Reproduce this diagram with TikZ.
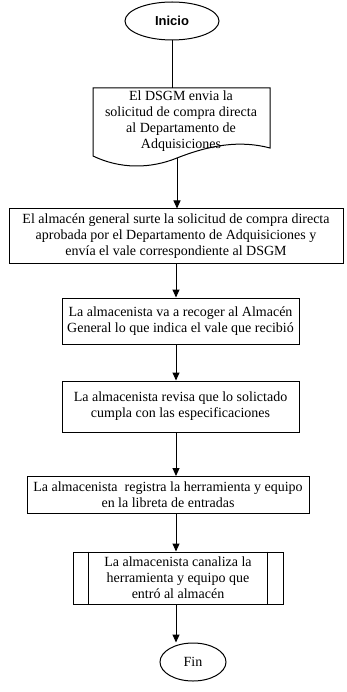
\documentclass[tikz,border=0pt]{standalone}
\usepackage{fontspec}
\setmainfont{Liberation Serif}
\newfontfamily\headfont{Liberation Sans}
\usetikzlibrary{shapes.geometric,arrows.meta}
\begin{document}
\begin{tikzpicture}[x=1pt,y=-1pt,
  txt/.style={align=center, font=\fontsize{14}{15.8}\selectfont, inner sep=0pt},
  box/.style={txt, draw, line width=1pt},
  term/.style={ellipse, draw, line width=1pt, inner sep=0pt},
  arr/.style={-{Triangle[length=8pt,width=7pt]}, line width=1pt},
  con/.style={line width=1pt}]
\useasboundingbox (0,0) rectangle (347,692);
\coordinate (cx) at (176,0);
% start
\node[term, minimum width=94pt, minimum height=38pt, font=\headfont\bfseries\fontsize{13}{15}\selectfont] (st) at (172,21) {Inicio};
% document shape
\coordinate (b1top) at (172,88);
\coordinate (b1bot) at (177,158);
\node[txt] (b1) at (181,121) {El DSGM envia la\\solicitud de compra directa\\al Departamento de\\Adquisiciones};
\draw[line width=1pt] (93,88) -- (270,88) -- (270,148)
  .. controls (240,140) and (210,145) .. (b1bot)
  .. controls (150,169) and (120,169) .. (93,156) -- cycle;
% boxes
\node[box, minimum width=334pt, minimum height=54pt] (b2) at (176,236) {El almacén general surte la solicitud de compra directa\\aprobada por el Departamento de Adquisiciones y\\envía el vale correspondiente al DSGM};
\node[box, minimum width=237pt, minimum height=46pt] (b3) at (180.5,321) {La almacenista va a recoger al Almacén\\General lo que indica el vale que recibió};
\node[box, minimum width=237pt, minimum height=51pt] (b4) at (180.5,406.5) {La almacenista revisa que lo solictado\\cumpla con las especificaciones};
\node[box, minimum width=282pt, minimum height=37pt] (b5) at (168,495) {La almacenista\ \ registra la herramienta y equipo\\en la libreta de entradas};
\node[box, minimum width=210pt, minimum height=52pt] (b6) at (178,578) {La almacenista canaliza la\\herramienta y equipo que\\entró al almacén};
\draw[con] ([xshift=16pt]b6.north west) -- ([xshift=16pt]b6.south west);
\draw[con] ([xshift=-16pt]b6.north east) -- ([xshift=-16pt]b6.south east);
% end
\node[term, minimum width=66pt, minimum height=38pt, font=\fontsize{14}{16}\selectfont] (en) at (193,662) {Fin};
% connectors
\draw[con] (st.south) -- (b1top);
\draw[arr] (b1bot) -- (b2.north -| b1bot);
\draw[arr] (b2.south -| cx) -- (b3.north -| cx);
\draw[arr] (b3.south -| cx) -- (b4.north -| cx);
\draw[arr] (b4.south -| cx) -- (b5.north -| cx);
\draw[arr] (b5.south -| cx) -- (b6.north -| cx);
\draw[arr] (b6.south -| cx) -- (en.north -| cx);
\end{tikzpicture}
\end{document}
